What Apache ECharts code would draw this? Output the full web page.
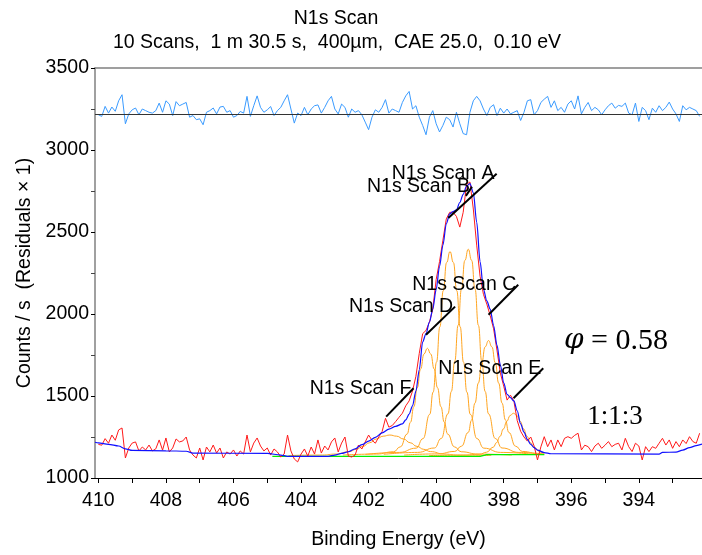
<!DOCTYPE html>
<html><head><meta charset="utf-8">
<script src="https://cdn.jsdelivr.net/npm/echarts@6/dist/echarts.min.js"></script>
<style>html,body{margin:0;padding:0;background:#fff}#c{width:702px;height:555px}</style>
</head><body><div id="c"></div>
<script>
// ---- data (binding energy in eV, intensity in counts/s) ----
const scanStart = 410.0;   // first channel (eV)
const scanStep = 0.1;      // channel width (eV)

const rawCounts = [
  1205,1200,1240,1212,1262,1230,1293,1305,1122,1183,
  1213,1220,1165,1189,1171,1201,1165,1178,1232,1170,
  1244,1159,1183,1238,1220,1226,1250,1171,1140,1122,
  1183,1110,1189,1159,1201,1152,1183,1122,1159,1146,
  1171,1134,1165,1146,1262,1159,1213,1244,1195,1165,
  1183,1140,1177,1159,1128,1146,1262,1165,1116,1098,
  1146,1177,1134,1189,1146,1232,1152,1195,1171,1220,
  1244,1159,1213,1250,1134,1128,1140,1201,1177,1220,
  1262,1230,1212,1250,1283,1364,1310,1320,1344,1370,
  1395,1440,1470,1530,1620,1760,1880,1900,1950,2030,
  2210,2320,2450,2580,2620,2620,2595,2530,2620,2790,
  2805,2640,2420,2230,2120,2060,1990,1910,1780,1640,
  1560,1475,1505,1470,1350,1285,1250,1225,1250,1195,
  1110,1190,1252,1191,1232,1171,1232,1191,1242,1252,
  1242,1260,1273,1171,1200,1191,1161,1195,1212,1181,
  1200,1222,1191,1205,1212,1171,1242,1191,1161,1212,
  1195,1110,1191,1161,1191,1181,1212,1242,1201,1232,
  1181,1222,1191,1232,1210,1252,1222,1212,1273
];

const residuals = [
  3215,3205,3266,3225,3262,3236,3300,3337,3160,3220,
  3245,3256,3215,3250,3240,3230,3225,3240,3286,3230,
  3300,3280,3210,3295,3270,3280,3290,3200,3210,3185,
  3190,3154,3230,3240,3256,3220,3262,3266,3230,3240,
  3200,3210,3235,3225,3327,3205,3270,3330,3260,3230,
  3245,3265,3210,3240,3260,3300,3337,3250,3164,3225,
  3210,3260,3215,3250,3270,3275,3225,3260,3300,3327,
  3250,3220,3280,3260,3200,3250,3230,3240,3215,3170,
  3124,3200,3245,3230,3260,3307,3225,3250,3240,3230,
  3290,3330,3357,3250,3270,3200,3150,3093,3200,3240,
  3160,3110,3150,3200,3185,3140,3230,3160,3100,3093,
  3230,3300,3327,3300,3250,3210,3260,3276,3210,3255,
  3225,3250,3220,3230,3240,3180,3230,3300,3307,3215,
  3240,3290,3310,3327,3260,3300,3240,3260,3230,3280,
  3300,3250,3330,3220,3260,3290,3240,3260,3245,3215,
  3245,3270,3286,3255,3272,3266,3286,3225,3215,3286,
  3174,3260,3240,3185,3255,3230,3270,3240,3260,3292,
  3250,3220,3174,3270,3245,3260,3250,3240,3205
];
const residualZero = 3215;

const envelope = [
  [410.1,1218],[410.0,1214],[409.7,1205],[409.4,1195],[409.2,1178],[409.0,1168],
  [408.0,1166],[407.4,1163],[407.2,1152],[405.0,1150],[404.6,1140],[404.4,1132],
  [403.2,1132],[403.0,1140],[402.8,1150],[402.6,1160],[402.4,1178],[402.2,1203],
  [402.0,1225],[401.8,1248],[401.6,1275],[401.4,1298],[401.2,1315],[401.0,1330],
  [400.9,1355],[400.8,1390],[400.7,1440],[400.6,1530],[400.5,1660],[400.4,1830],
  [400.3,1880],[400.2,1950],[400.1,2030],[400.0,2150],[399.9,2290],[399.8,2420],
  [399.7,2550],[399.6,2610],[399.5,2625],[399.4,2635],[399.3,2680],[399.2,2730],
  [399.1,2780],[399.0,2795],[398.9,2740],[398.8,2560],[398.7,2320],[398.6,2150],
  [398.5,2080],[398.4,2030],[398.3,1930],[398.2,1810],[398.1,1690],[398.0,1580],
  [397.9,1510],[397.8,1490],[397.7,1470],[397.6,1410],[397.5,1330],[397.4,1280],
  [397.3,1235],[397.2,1205],[397.1,1185],[397.0,1170],[396.8,1155],[396.6,1148],
  [393.4,1146],[393.3,1156],[392.9,1158],[392.7,1170],[392.5,1185],[392.3,1198],
  [392.13,1207]
];

const background = [[404.85,1132],[398.7,1132],[398.5,1143],[396.8,1143]];

const compF = [[404.37,1137],[403.37,1140],[402.97,1146],[402.57,1161],[402.37,1175],[402.17,1193],
  [401.97,1215],[401.77,1238],[401.57,1255],[401.37,1262],[401.17,1255],[400.97,1238],[400.77,1215],
  [400.57,1193],[400.37,1175],[400.17,1161],[399.77,1146],[399.37,1140],[398.37,1137]];
const compD = [[402.76,1140],[401.76,1146],[401.26,1160],[401.06,1190],[400.86,1268],[400.76,1340],
  [400.66,1435],[400.56,1550],[400.46,1665],[400.36,1756],[400.26,1791],[400.16,1756],[400.06,1665],
  [399.96,1550],[399.86,1435],[399.76,1340],[399.66,1268],[399.46,1190],[399.26,1160],[398.76,1146],[397.76,1140]];
const compA = [[402.09,1144],[401.09,1156],[400.59,1182],[400.39,1240],[400.19,1388],[400.09,1524],
  [399.99,1706],[399.89,1922],[399.79,2142],[399.69,2314],[399.59,2381],[399.49,2314],[399.39,2142],
  [399.29,1922],[399.19,1706],[399.09,1524],[398.99,1388],[398.79,1240],[398.59,1182],[398.09,1156],[397.09,1144]];
const compB = [[401.55,1144],[400.55,1156],[400.05,1183],[399.85,1241],[399.65,1391],[399.55,1528],
  [399.45,1712],[399.35,1931],[399.25,2153],[399.15,2327],[399.05,2395],[398.95,2327],[398.85,2153],
  [398.75,1931],[398.65,1712],[398.55,1528],[398.45,1391],[398.25,1241],[398.05,1183],[397.55,1156],[396.8,1146]];
const compC = [[400.95,1140],[399.95,1147],[399.45,1162],[399.25,1194],[399.05,1278],[398.95,1354],
  [398.85,1457],[398.75,1579],[398.65,1703],[398.55,1800],[398.45,1838],[398.35,1800],[398.25,1703],
  [398.15,1579],[398.05,1457],[397.95,1354],[397.85,1278],[397.65,1194],[397.45,1162],[396.95,1147],[396.8,1143]];
const compE = [[400.21,1137],[399.21,1139],[398.71,1145],[398.51,1157],[398.31,1188],[398.21,1216],
  [398.11,1254],[398.01,1299],[397.91,1345],[397.81,1381],[397.71,1395],[397.61,1381],[397.51,1345],
  [397.41,1299],[397.31,1254],[397.21,1216],[397.11,1188],[396.91,1157],[396.8,1150]];
const components = [compF, compD, compA, compB, compC, compE];

const leaderNames = ['N1s Scan A','N1s Scan B','N1s Scan C','N1s Scan D','N1s Scan E','N1s Scan F'];
const leaderFrom = [[398.21,2855],[398.94,2776],[397.57,2178],[399.44,2045],[396.83,1669],[400.67,1547]];
const leaderTo   = [[399.64,2585],[399.12,2720],[398.45,1995],[400.30,1873],[397.71,1486],[401.48,1374]];

const xTickValues = [393,394,395,396,397,398,399,400,401,402,403,404,405,406,407,408,409,410];
const xLabelValues = [394,396,398,400,402,404,406,408,410];

const titleText = 'N1s Scan';
const subtitleText = '10 Scans,  1 m 30.5 s,  400µm,  CAE 25.0,  0.10 eV';
const xName = 'Binding Energy (eV)';
const yName = 'Counts / s  (Residuals × 1)';

// ---- build ----
const FONT = 'Liberation Sans, Arial, sans-serif';
const FS = 19.5;
const rawData = rawCounts.map((v, i) => [+(scanStart - i * scanStep).toFixed(2), v]);
const resData = residuals.map((v, i) => [+(scanStart - i * scanStep).toFixed(2), v]);

const series = [];
components.forEach(c => series.push({
  type: 'line', data: c, showSymbol: false, smooth: 0.5, smoothMonotone: 'x', z: 2,
  lineStyle: { color: '#ffa520', width: 1 }, silent: true
}));
series.push({ type: 'line', data: background, showSymbol: false, z: 3,
  lineStyle: { color: '#00ee00', width: 1.3 }, silent: true });
series.push({ type: 'line', data: rawData, showSymbol: false, z: 4,
  lineStyle: { color: '#ff1a1a', width: 1 }, silent: true });
series.push({ type: 'line', data: envelope, showSymbol: false, smooth: 0.3, smoothMonotone: 'x', z: 5,
  lineStyle: { color: '#1010ff', width: 1.2 }, silent: true });
series.push({ type: 'line', data: resData, showSymbol: false, z: 4,
  lineStyle: { color: '#3a9bff', width: 1 }, silent: true,
  markLine: { silent: true, symbol: ['none', 'none'], label: { show: false },
    lineStyle: { color: '#333', type: 'solid', width: 1.2 }, data: [{ yAxis: residualZero }] } });
leaderNames.forEach((n, i) => series.push({
  type: 'line', data: [leaderFrom[i], leaderTo[i]], showSymbol: false, z: 6,
  lineStyle: { color: '#000', width: 2 }, silent: true
}));
series.push({
  type: 'scatter', symbolSize: 0, z: 7, silent: true,
  itemStyle: { opacity: 1 },
  data: leaderNames.map((n, i) => ({ name: n, value: leaderFrom[i] })),
  label: { show: true, position: 'left', distance: 2, formatter: '{b}', opacity: 1,
    fontFamily: FONT, fontSize: FS, color: '#000', textBorderWidth: 0 }
});

const chart = echarts.init(document.getElementById('c'), null, { renderer: 'canvas' });
chart.setOption({
  animation: false,
  backgroundColor: '#fff',
  grid: { left: 95, right: 0, top: 68, bottom: 77 },
  xAxis: [{
    type: 'value', inverse: true, min: 392.13, max: 410.1, position: 'bottom',
    name: xName, nameLocation: 'middle', nameGap: 52,
    nameTextStyle: { fontFamily: FONT, fontSize: FS, color: '#000' },
    axisLine: { show: true, onZero: false, lineStyle: { color: '#000', width: 1 } },
    axisTick: { show: true, customValues: xTickValues, length: 5, lineStyle: { color: '#000' } },
    axisLabel: { customValues: xLabelValues, fontFamily: FONT, fontSize: FS, color: '#000', margin: 13,
      formatter: v => String(v) },
    splitLine: { show: false }
  }, {
    type: 'value', inverse: true, min: 392.13, max: 410.1, position: 'top',
    axisLine: { show: true, onZero: false, lineStyle: { color: '#808080', width: 1.5 } },
    axisTick: { show: false }, axisLabel: { show: false }, splitLine: { show: false }
  }],
  yAxis: {
    type: 'value', min: 1000, max: 3500, interval: 500,
    name: yName, nameLocation: 'middle', nameGap: 58,
    nameTextStyle: { fontFamily: FONT, fontSize: FS, color: '#000' },
    axisLine: { show: true, lineStyle: { color: '#808080', width: 1.5 } },
    axisTick: { show: true, length: 4, lineStyle: { color: '#000' } },
    minorTick: { show: true, splitNumber: 2, length: 4, lineStyle: { color: '#444' } },
    axisLabel: { fontFamily: FONT, fontSize: FS, color: '#000', margin: 6, formatter: v => String(v) },
    splitLine: { show: false }
  },
  graphic: [
    { type: 'text', x: 336, y: 19, style: { text: titleText, font: FS + 'px ' + FONT, fill: '#000', align: 'center', verticalAlign: 'middle' } },
    { type: 'text', x: 337, y: 43, style: { text: subtitleText, font: FS + 'px ' + FONT, fill: '#000', align: 'center', verticalAlign: 'middle' } },
    { type: 'text', x: 616, y: 341, style: {
        text: '{i|φ} = 0.58', align: 'center', verticalAlign: 'middle', fill: '#000',
        font: '30px Liberation Serif, serif',
        rich: { i: { fontFamily: 'DejaVu Serif', fontStyle: 'italic', fontSize: 28 } } } },
    { type: 'text', x: 615, y: 417, style: { text: '1:1:3', font: '27px Liberation Serif, serif', fill: '#000', align: 'center', verticalAlign: 'middle' } }
  ],
  series
});
</script>
</body></html>
